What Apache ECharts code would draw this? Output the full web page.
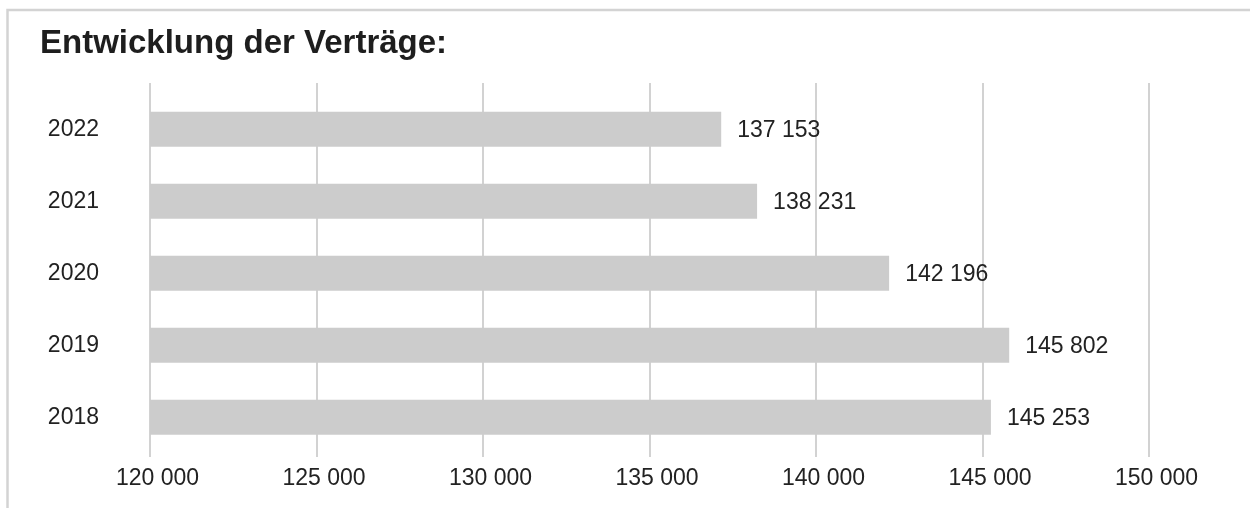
<!DOCTYPE html>
<html>
<head>
<meta charset="utf-8">
<script src="https://cdn.jsdelivr.net/npm/echarts@6/dist/echarts.min.js"></script>
<style>
html,body{margin:0;padding:0;background:#fff;}
#c{width:1250px;height:508px;}
</style>
</head>
<body>
<div id="c"></div>
<script>
const title = 'Entwicklung der Verträge:';
const years = ['2018', '2019', '2020', '2021', '2022'];
const contracts = [145253, 145802, 142196, 138231, 137153];
const axisMin = 120000;
const axisMax = 150000;
const axisStep = 5000;

function fmt(v) {
  return String(Math.round(v)).replace(/\B(?=(\d{3})+(?!\d))/g, ' ');
}

const chart = echarts.init(document.getElementById('c'), null, {renderer: 'canvas'});
const font = 'Liberation Sans, Arial, Helvetica, sans-serif';
chart.setOption({
  animation: false,
  backgroundColor: '#ffffff',
  graphic: [
    {
      type: 'rect', silent: true, z: -10,
      shape: {x: 7.5, y: 10, width: 1300, height: 600},
      style: {fill: 'none', stroke: '#d3d3d3', lineWidth: 2.5}
    },
    {
      type: 'text', silent: true,
      x: 40, y: 43.5,
      style: {
        text: title, fill: '#1e1e1e',
        font: 'bold 33px ' + font,
        verticalAlign: 'middle', align: 'left'
      }
    }
  ],
  grid: [
    {left: 150, width: 999, top: 83, bottom: 51},
    {left: 150, width: 999, top: 93.3, height: 360}
  ],
  xAxis: [
    {
      type: 'value', gridIndex: 0, min: axisMin, max: axisMax, interval: axisStep,
      axisLine: {show: false}, axisTick: {show: false},
      splitLine: {show: true, lineStyle: {color: '#d2d2d2', width: 2}},
      axisLabel: {
        margin: 10.5, fontSize: 23, fontFamily: font, color: '#222',
        lineHeight: 23, padding: [0, 0, 0, 15],
        formatter: fmt
      }
    },
    {
      type: 'value', gridIndex: 1, min: axisMin, max: axisMax, interval: axisStep,
      show: false, splitLine: {show: false}
    }
  ],
  yAxis: [
    {type: 'value', gridIndex: 0, show: false, splitLine: {show: false}},
    {
      type: 'category', gridIndex: 1, data: years,
      axisLine: {show: false}, axisTick: {show: false},
      axisLabel: {margin: 51, fontSize: 23, fontFamily: font, color: '#222', padding: [3, 0, 0, 0]}
    }
  ],
  series: [
    {
      type: 'bar', xAxisIndex: 1, yAxisIndex: 1,
      data: contracts, barWidth: 35,
      itemStyle: {color: '#cccccc'},
      label: {
        show: true, position: 'right', distance: 16,
        fontSize: 23, fontFamily: font, color: '#222',
        offset: [0, 1.5],
        formatter: p => fmt(p.value)
      }
    }
  ]
});
</script>
</body>
</html>
